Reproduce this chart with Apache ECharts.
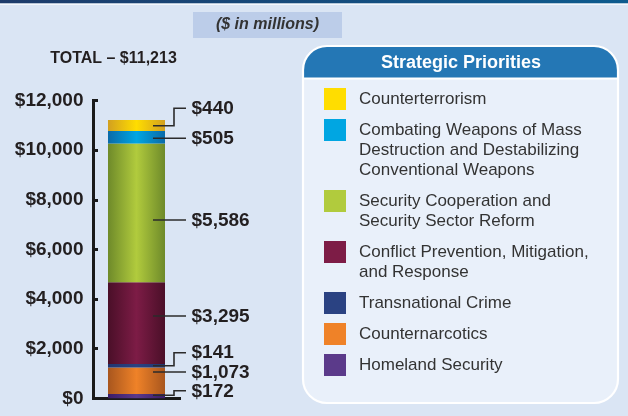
<!DOCTYPE html>
<html>
<head>
<meta charset="utf-8">
<script src="https://cdn.jsdelivr.net/npm/echarts@6/dist/echarts.min.js"></script>
<style>
html,body{margin:0;padding:0;background:#dae5f4;}
#c{width:628px;height:416px;}
</style>
</head>
<body>
<div id="c"></div>
<script>
// ---- data (stack order: bottom to top) ----
const categories = [
  'Homeland Security',
  'Counternarcotics',
  'Transnational Crime',
  'Conflict Prevention, Mitigation, and Response',
  'Security Cooperation and Security Sector Reform',
  'Combating Weapons of Mass Destruction and Destabilizing Conventional Weapons',
  'Counterterrorism'
];
const values = [172, 1073, 141, 3295, 5586, 505, 440];
const valueLabels = ['$172', '$1,073', '$141', '$3,295', '$5,586', '$505', '$440'];
const legendTexts = [
  'Homeland Security',
  'Counternarcotics',
  'Transnational Crime',
  'Conflict Prevention, Mitigation,\nand Response',
  'Security Cooperation and\nSecurity Sector Reform',
  'Combating Weapons of Mass\nDestruction and Destabilizing\nConventional Weapons',
  'Counterterrorism'
];
const xCategory = ['Total'];
const yMin = 0, yMax = 12000, yInterval = 2000;
const titleText = 'TOTAL \u2013 $11,213';
const unitText = '($ in millions)';
const legendTitle = 'Strategic Priorities';

// ---- styles / layout ----
const swatchColors = ['#5b3a8a', '#ef8228', '#2a4282', '#7d1c46', '#b1cb3d', '#00a6e2', '#ffdd00'];
const edgeColors   = ['#3a1c68', '#a8561e', '#1f3570', '#4a0f28', '#6e8a2a', '#0a6aa8', '#d2a020'];
const leaderFrac = [0.7, 0.83, 0.49, 0.586, 0.448, 0.416, 0.48];
const labelShift = [-4.5, 0, -13, 0, 0, 0, -17.5];

const cum = [];
values.reduce((acc, v, i) => { cum[i] = acc; return acc + v; }, 0);

const fontLabel = 'bold 19px "Liberation Sans", Arial, sans-serif';

const barSeries = categories.map((name, i) => ({
  type: 'bar',
  name: name,
  stack: 'total',
  barWidth: 57,
  data: [values[i]],
  itemStyle: {
    color: new echarts.graphic.LinearGradient(0, 0, 1, 0, [
      { offset: 0, color: edgeColors[i] },
      { offset: 0.5, color: swatchColors[i] },
      { offset: 1, color: edgeColors[i] }
    ])
  },
  emphasis: { disabled: true }
}));

const leaderSeries = {
  type: 'custom',
  name: 'labels',
  z: 5,
  clip: false,
  encode: { x: 0, y: 1 },
  data: values.map((v, i) => [0, cum[i], v]),
  renderItem: function (params, api) {
    const i = params.dataIndex;
    const p = api.coord([api.value(0), api.value(1) + api.value(2) * leaderFrac[i]]);
    const cx = p[0], ay = p[1];
    const ly = ay + labelShift[i];
    const x1 = cx + 16.5, x2 = cx + 37.5, x3 = cx + 49.5;
    const pts = labelShift[i] === 0 ? [[x1, ay], [x3, ay]] : [[x1, ay], [x2, ay], [x2, ly], [x3, ly]];
    return {
      type: 'group',
      children: [
        { type: 'polyline', shape: { points: pts }, style: { stroke: '#2b2b2b', lineWidth: 1.6, fill: null } },
        { type: 'text', style: { text: valueLabels[i], x: cx + 55, y: ly + 0.5, verticalAlign: 'middle', align: 'left', font: fontLabel, fill: '#231f20' } }
      ]
    };
  }
};

// legend drawn top-to-bottom (reverse of stack)
const legendGraphics = [];
let ty = 88;
for (let k = categories.length - 1; k >= 0; k--) {
  const lines = legendTexts[k].split('\n').length;
  legendGraphics.push({
    type: 'rect', shape: { x: 324, y: ty, width: 22, height: 22 },
    style: { fill: swatchColors[k] }, z: 10
  });
  legendGraphics.push({
    type: 'text', x: 359, y: ty + 1, z: 10,
    style: { text: legendTexts[k], font: '17px "Liberation Sans", Arial, sans-serif', fill: '#333333', lineHeight: 20, verticalAlign: 'top' }
  });
  ty += lines * 20 + 11;
}

const chart = echarts.init(document.getElementById('c'), null, { renderer: 'canvas' });
chart.setOption({
  backgroundColor: '#dae5f4',
  animation: false,
  title: [
    {
      text: titleText, left: 113.5, top: 51, textAlign: 'center', padding: 0,
      textStyle: { fontFamily: '"Liberation Sans", Arial, sans-serif', fontWeight: 'bold', fontSize: 16, color: '#231f20' }
    },
    {
      text: unitText, left: 267.5, top: 17, textAlign: 'center', padding: 0, z: 10,
      textStyle: { fontFamily: '"Liberation Sans", Arial, sans-serif', fontWeight: 'bold', fontStyle: 'italic', fontSize: 16, color: '#333333' }
    }
  ],
  grid: { left: 93.5, top: 100.5, width: 86, height: 297.8, outerBoundsMode: 'none', containLabel: false },
  xAxis: {
    type: 'category',
    data: xCategory,
    axisLine: { show: true, lineStyle: { color: '#1a1a1a', width: 3, cap: 'square' } },
    axisTick: { show: false },
    axisLabel: { show: false },
    splitLine: { show: false }
  },
  yAxis: {
    type: 'value',
    min: yMin, max: yMax, interval: yInterval,
    axisLine: { show: true, lineStyle: { color: '#1a1a1a', width: 3, cap: 'square' } },
    axisTick: { show: true, inside: true, length: 4.5, lineStyle: { color: '#1a1a1a', width: 3 } },
    axisLabel: {
      margin: 10,
      fontFamily: '"Liberation Sans", Arial, sans-serif',
      fontWeight: 'bold', fontSize: 19, color: '#231f20',
      formatter: v => '$' + v.toLocaleString('en-US')
    },
    splitLine: { show: false }
  },
  series: barSeries.concat([leaderSeries]),
  graphic: [
    {
      type: 'rect', shape: { x: 0, y: 0, width: 628, height: 3.5 },
      style: { fill: new echarts.graphic.LinearGradient(0, 0, 1, 0, [{ offset: 0, color: '#1d3b6a' }, { offset: 1, color: '#0d5b8e' }]) }
    },
    { type: 'rect', shape: { x: 0, y: 3.5, width: 628, height: 1.6 }, style: { fill: '#f3f7fc' } },
    { type: 'rect', shape: { x: 193, y: 12, width: 149, height: 26 }, style: { fill: '#bccde9' }, z: 1 },
    { type: 'rect', shape: { x: 303, y: 46, width: 315, height: 357, r: 24 }, style: { fill: '#e9f0fa' }, z: 5 },
    { type: 'rect', shape: { x: 303, y: 46, width: 315, height: 32, r: [24, 24, 0, 0] }, style: { fill: '#2477b5' }, z: 6 },
    { type: 'line', shape: { x1: 304, y1: 78.5, x2: 617, y2: 78.5 }, style: { stroke: '#ffffff', lineWidth: 2 }, z: 7 },
    { type: 'rect', shape: { x: 303, y: 46, width: 315, height: 357, r: 24 }, style: { fill: null, stroke: '#ffffff', lineWidth: 2.2 }, z: 8 },
    {
      type: 'text', x: 461, y: 63.5, z: 9,
      style: { text: legendTitle, font: 'bold 18px "Liberation Sans", Arial, sans-serif', fill: '#ffffff', align: 'center', verticalAlign: 'middle' }
    }
  ].concat(legendGraphics)
});
</script>
</body>
</html>
